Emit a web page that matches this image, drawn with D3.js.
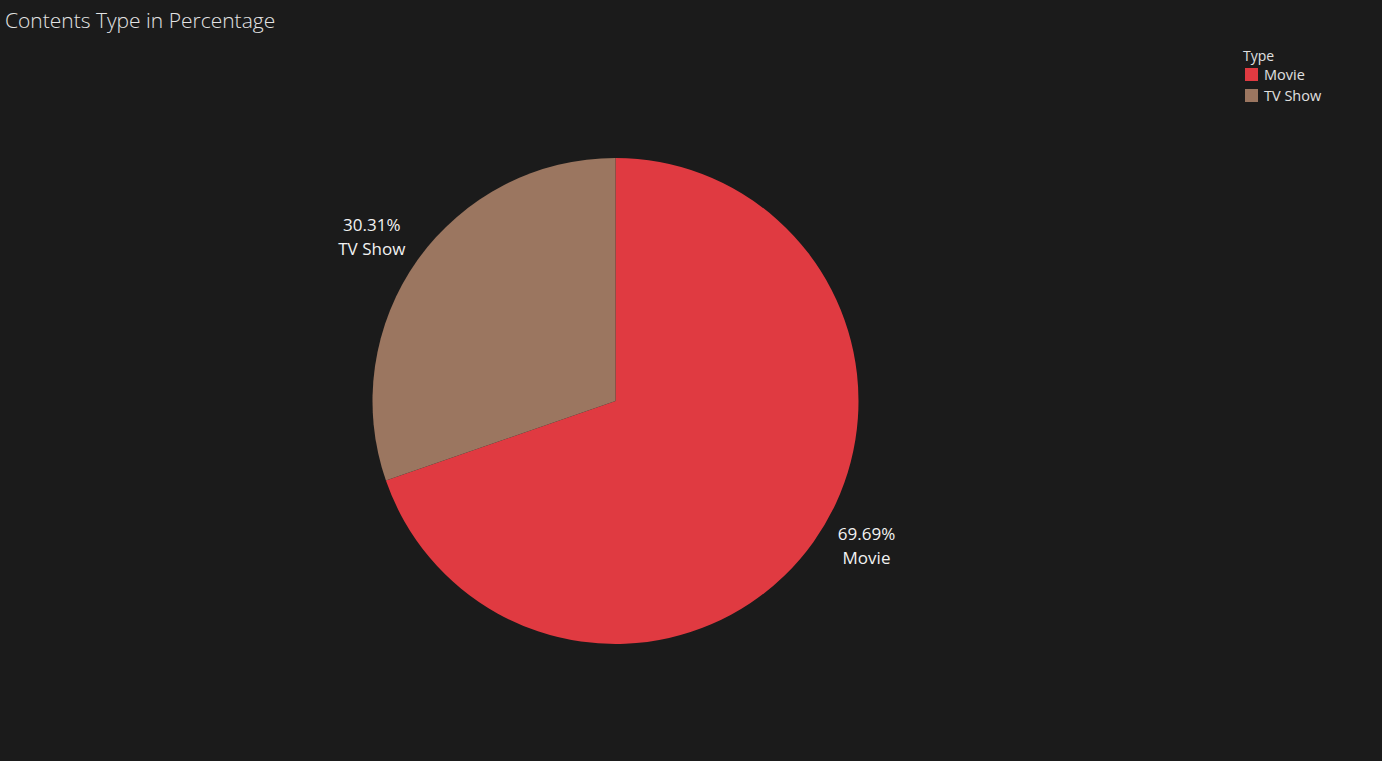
<!DOCTYPE html>
<html><head><meta charset="utf-8">
<script src="https://cdn.jsdelivr.net/npm/d3@7"></script>
<style>html,body{margin:0;padding:0;background:#1b1b1b;overflow:hidden}</style>
</head><body>
<svg id="c" width="1382" height="761"></svg>
<script>
const categories = ["Movie", "TV Show"];
const values = [69.69, 30.31];
const colors = ["#e03a41", "#9b7660"];
const legendTitle = "Type";
const title = "Contents Type in Percentage";

const svg = d3.select("#c");
svg.append("rect").attr("width",1382).attr("height",761).attr("fill","#1b1b1b");
svg.append("text").attr("x",5).attr("y",28).attr("fill","#e4e4e4")
  .style("font-family","'Open Sans', sans-serif").style("font-weight","300").style("font-size","21px").text(title);

const cx = 615.5, cy = 401, R = 243;
const data = categories.map((c,i)=>({cat:c, v:values[i]}));
const color = d3.scaleOrdinal().domain(categories).range(colors);
const pie = d3.pie().value(d=>d.v).sort(null);
const arc = d3.arc().innerRadius(0).outerRadius(R);
const g = svg.append("g").attr("transform",`translate(${cx},${cy})`);
const arcs = pie(data);
g.selectAll("path").data(arcs).join("path").attr("d",arc).attr("fill",d=>color(d.data.cat));

// labels: outside the slice, nudged toward the horizontal as Tableau does
const lab = g.selectAll("g.lab").data(arcs).join("g").attr("class","lab")
  .attr("transform",d=>{
    const mid=(d.startAngle+d.endAngle)/2;
    const right = Math.sin(mid)>0;
    const a = mid + (right ? -0.1 : -0.02);
    const r = R + (right ? 46 : 52);
    return `translate(${r*Math.sin(a)},${-r*Math.cos(a)})`;});
lab.append("text").attr("text-anchor","middle").attr("y",-4).attr("fill","#f2f2f2")
  .style("font-family","'Open Sans', sans-serif").style("font-size","17px").text(d=>d3.format(".2f")(d.data.v)+"%");
lab.append("text").attr("text-anchor","middle").attr("y",20).attr("fill","#f2f2f2")
  .style("font-family","'Open Sans', sans-serif").style("font-size","17px").text(d=>d.data.cat);

const lg = svg.append("g").attr("transform","translate(1243,0)");
lg.append("text").attr("x",0).attr("y",61).attr("fill","#e0e0e0")
  .style("font-family","'Open Sans', sans-serif").style("font-size","14px").text(legendTitle);
const items = lg.selectAll("g.it").data(categories).join("g").attr("class","it")
  .attr("transform",(d,i)=>`translate(0,${68+i*21})`);
items.append("rect").attr("x",2).attr("y",0).attr("width",13).attr("height",13).attr("fill",d=>color(d));
items.append("text").attr("x",21).attr("y",12).attr("fill","#e0e0e0")
  .style("font-family","'Open Sans', sans-serif").style("font-size","14.5px").text(d=>d);
</script>
</body></html>
